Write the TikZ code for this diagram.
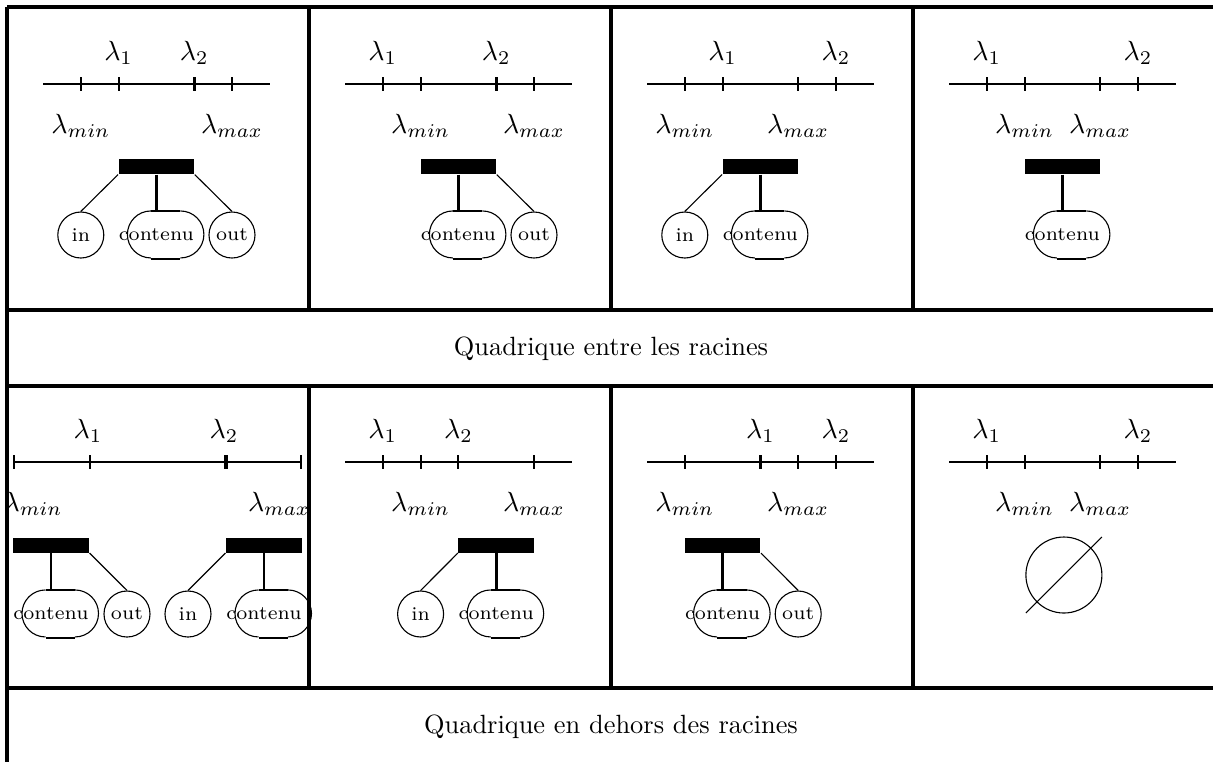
\documentclass[tikz,border=0pt]{standalone}
\usepackage{tikz}
\tikzset{
  x=0.36pt, y=-0.36pt,
  declare function={P(\n)=36+37.8*\n;},
  frame/.style={line width=1.1pt},
  axisline/.style={line width=0.75pt},
  tickmark/.style={line width=0.75pt},
  tickthick/.style={line width=1.1pt},
  lab/.style={anchor=base, inner sep=0pt},
  bar/.style={fill=black, draw=none, minimum width=27.2pt, minimum height=5.4pt, inner sep=0pt},
  leaf/.style={circle, draw, line width=0.4pt, minimum size=16.56pt, inner sep=0pt, font=\scriptsize},
  cont/.style={minimum height=16.92pt, inner sep=0pt, font=\scriptsize},
  thinedge/.style={line width=0.4pt},
  stemedge/.style={line width=1.05pt},
  flatedge/.style={line width=0.9pt},
  caption/.style={anchor=base, inner sep=0pt, font=\fontsize{9.5}{11}\selectfont},
}
\newcommand\stadium[1]{%
  \draw[thinedge] ([xshift=-1.98pt]#1.north) arc[start angle=90,end angle=270,radius=8.46pt];
  \draw[thinedge] ([xshift=8.64pt]#1.north) arc[start angle=90,end angle=-90,radius=8.46pt];
  \draw[flatedge] ([xshift=-1.98pt]#1.north) -- ([xshift=8.64pt]#1.north);
  \draw[flatedge] ([xshift=-1.98pt]#1.south) -- ([xshift=8.64pt]#1.south);
}
\begin{document}
\begin{tikzpicture}
\useasboundingbox (0,0) rectangle (1213,762);
% frame
\draw[frame] (7,7) -- (1213,7);
\draw[frame] (7,7) -- (7,762);
\draw[frame] (7,310) -- (1213,310);
\draw[frame] (7,386) -- (1213,386);
\draw[frame] (7,688) -- (1213,688);
\foreach \xx in {309,611,913} {
  \draw[frame] (\xx,7) -- (\xx,310);
  \draw[frame] (\xx,386) -- (\xx,688);
}
\node[caption] (capA) at (611,355) {Quadrique entre les racines};
\node[caption] (capB) at (611,733) {Quadrique en dehors des racines};

% ---------- row 0, col 0
\begin{scope}[shift={(7,7)}]
  \draw[axisline] ({P(0)},77) -- ({P(6)},77);
  \foreach \p in {1,2,5} \draw[tickmark] ({P(\p)},70) -- ({P(\p)},84);
  \draw[tickthick] ({P(4)},70) -- ({P(4)},84);
  \node[lab] (la1) at ({P(2)},53) {$\lambda_1$};
  \node[lab] (la2) at ({P(4)},53) {$\lambda_2$};
  \node[lab] (lamina) at ({P(1)},126) {$\lambda_{min}$};
  \node[lab] (lamaxa) at ({P(5)},126) {$\lambda_{max}$};
  \node[bar] (ba) at ({P(3)},159.5) {};
  \node[leaf] (ia) at ({P(1)},228) {in};
  \node[cont] (ca) at ({P(3)},228) {contenu};
  \node[leaf] (oa) at ({P(5)},228) {out};
  \draw[thinedge] (ba.south west) -- (ia.north);
  \draw[stemedge] (ba.south) -- (ca.north);
  \draw[thinedge] (ba.south east) -- (oa.north);
  \stadium{ca}
\end{scope}

% ---------- row 0, col 1
\begin{scope}[shift={(309,7)}]
  \draw[axisline] ({P(0)},77) -- ({P(6)},77);
  \foreach \p in {1,2,5} \draw[tickmark] ({P(\p)},70) -- ({P(\p)},84);
  \draw[tickthick] ({P(4)},70) -- ({P(4)},84);
  \node[lab] (lb1) at ({P(1)},53) {$\lambda_1$};
  \node[lab] (lb2) at ({P(4)},53) {$\lambda_2$};
  \node[lab] (laminb) at ({P(2)},126) {$\lambda_{min}$};
  \node[lab] (lamaxb) at ({P(5)},126) {$\lambda_{max}$};
  \node[bar] (bb) at ({P(3)},159.5) {};
  \node[cont] (cb) at ({P(3)},228) {contenu};
  \node[leaf] (ob) at ({P(5)},228) {out};
  \draw[stemedge] (bb.south) -- (cb.north);
  \draw[thinedge] (bb.south east) -- (ob.north);
  \stadium{cb}
\end{scope}

% ---------- row 0, col 2
\begin{scope}[shift={(611,7)}]
  \draw[axisline] ({P(0)},77) -- ({P(6)},77);
  \foreach \p in {1,2,4,5} \draw[tickmark] ({P(\p)},70) -- ({P(\p)},84);
  \node[lab] (lc1) at ({P(2)},53) {$\lambda_1$};
  \node[lab] (lc2) at ({P(5)},53) {$\lambda_2$};
  \node[lab] (laminc) at ({P(1)},126) {$\lambda_{min}$};
  \node[lab] (lamaxc) at ({P(4)},126) {$\lambda_{max}$};
  \node[bar] (bc) at ({P(3)},159.5) {};
  \node[leaf] (ic) at ({P(1)},228) {in};
  \node[cont] (cc) at ({P(3)},228) {contenu};
  \draw[thinedge] (bc.south west) -- (ic.north);
  \draw[stemedge] (bc.south) -- (cc.north);
  \stadium{cc}
\end{scope}

% ---------- row 0, col 3
\begin{scope}[shift={(913,7)}]
  \draw[axisline] ({P(0)},77) -- ({P(6)},77);
  \foreach \p in {1,2,4,5} \draw[tickmark] ({P(\p)},70) -- ({P(\p)},84);
  \node[lab] (ld1) at ({P(1)},53) {$\lambda_1$};
  \node[lab] (ld2) at ({P(5)},53) {$\lambda_2$};
  \node[lab] (lamind) at ({P(2)},126) {$\lambda_{min}$};
  \node[lab] (lamaxd) at ({P(4)},126) {$\lambda_{max}$};
  \node[bar] (bd) at ({P(3)},159.5) {};
  \node[cont] (cd) at ({P(3)},228) {contenu};
  \draw[stemedge] (bd.south) -- (cd.north);
  \stadium{cd}
\end{scope}

% ---------- row 1, col 0
\begin{scope}[shift={(7,386)}]
  \draw[axisline] (7,76) -- (294,76);
  \foreach \p in {7,83,294} \draw[tickmark] (\p,69) -- (\p,83);
  \draw[tickthick] (219,69) -- (219,83);
  \node[lab] (le1) at (81,52) {$\lambda_1$};
  \node[lab] (le2) at (217,52) {$\lambda_2$};
  \node[lab] (lamine) at (26,125) {$\lambda_{min}$};
  \node[lab] (lamaxe) at (272,125) {$\lambda_{max}$};
  \node[bar, minimum width=27.36pt] (be) at (44,159) {};
  \node[bar, minimum width=27.36pt] (bf) at (257,159) {};
  \node[cont] (ce) at (44,228) {contenu};
  \node[leaf] (oe) at (120,228) {out};
  \node[leaf] (ie) at (181,228) {in};
  \node[cont] (cf) at (257,228) {contenu};
  \draw[stemedge] (be.south) -- (ce.north);
  \draw[thinedge] (be.south east) -- (oe.north);
  \draw[thinedge] (bf.south west) -- (ie.north);
  \draw[stemedge] (bf.south) -- (cf.north);
  \stadium{ce}
  \stadium{cf}
\end{scope}

% ---------- row 1, col 1
\begin{scope}[shift={(309,386)}]
  \draw[axisline] ({P(0)},76) -- ({P(6)},76);
  \foreach \p in {1,2,3,5} \draw[tickmark] ({P(\p)},69) -- ({P(\p)},83);
  \node[lab] (lg1) at ({P(1)},52) {$\lambda_1$};
  \node[lab] (lg2) at ({P(3)},52) {$\lambda_2$};
  \node[lab] (laming) at ({P(2)},125) {$\lambda_{min}$};
  \node[lab] (lamaxg) at ({P(5)},125) {$\lambda_{max}$};
  \node[bar] (bg) at ({P(4)},159) {};
  \node[leaf] (ig) at ({P(2)},228) {in};
  \node[cont] (cg) at ({P(4)},228) {contenu};
  \draw[thinedge] (bg.south west) -- (ig.north);
  \draw[stemedge] (bg.south) -- (cg.north);
  \stadium{cg}
\end{scope}

% ---------- row 1, col 2
\begin{scope}[shift={(611,386)}]
  \draw[axisline] ({P(0)},76) -- ({P(6)},76);
  \foreach \p in {1,4,5} \draw[tickmark] ({P(\p)},69) -- ({P(\p)},83);
  \draw[tickthick] ({P(3)},69) -- ({P(3)},83);
  \node[lab] (lh1) at ({P(3)},52) {$\lambda_1$};
  \node[lab] (lh2) at ({P(5)},52) {$\lambda_2$};
  \node[lab] (laminh) at ({P(1)},125) {$\lambda_{min}$};
  \node[lab] (lamaxh) at ({P(4)},125) {$\lambda_{max}$};
  \node[bar] (bh) at ({P(2)},159) {};
  \node[cont] (ch) at ({P(2)},228) {contenu};
  \node[leaf] (oh) at ({P(4)},228) {out};
  \draw[stemedge] (bh.south) -- (ch.north);
  \draw[thinedge] (bh.south east) -- (oh.north);
  \stadium{ch}
\end{scope}

% ---------- row 1, col 3
\begin{scope}[shift={(913,386)}]
  \draw[axisline] ({P(0)},76) -- ({P(6)},76);
  \foreach \p in {1,2,4,5} \draw[tickmark] ({P(\p)},69) -- ({P(\p)},83);
  \node[lab] (li1) at ({P(1)},52) {$\lambda_1$};
  \node[lab] (li2) at ({P(5)},52) {$\lambda_2$};
  \node[lab] (lamini) at ({P(2)},125) {$\lambda_{min}$};
  \node[lab] (lamaxi) at ({P(4)},125) {$\lambda_{max}$};
  \node[circle, draw, line width=0.4pt, minimum size=27.36pt, inner sep=0pt] (empty) at ({P(3)+1.5},189) {};
  \draw[thinedge] ([shift={(-38,38)}]empty.center) -- ([shift={(38,-38)}]empty.center);
\end{scope}
\end{tikzpicture}
\end{document}
